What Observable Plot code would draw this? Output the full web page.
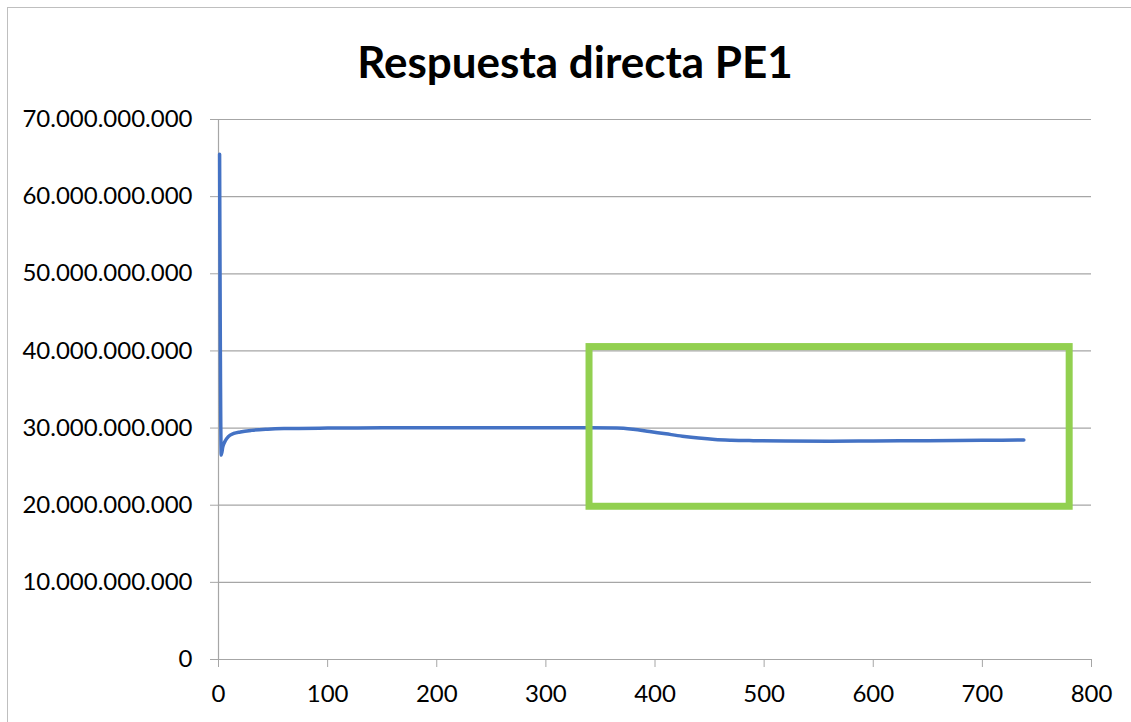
<!DOCTYPE html>
<html>
<head>
<meta charset="utf-8">
<script src="https://cdn.jsdelivr.net/npm/d3@7"></script>
<script src="https://cdn.jsdelivr.net/npm/@observablehq/plot@0.6"></script>
<style>
  html, body { margin: 0; padding: 0; background: #fff; }
  #wrap { position: relative; width: 1131px; height: 722px; overflow: hidden; }
  #frame { position: absolute; left: 7px; top: 7px; width: 1140px; height: 730px;
           border-left: 1.5px solid #bfbfbf; border-top: 1.5px solid #bfbfbf; box-sizing: border-box; }
  #chart { position: absolute; left: 0; top: 0; }
</style>
</head>
<body>
<div id="wrap"><div id="frame"></div><div id="chart"></div></div>
<script>
const title = "Respuesta directa PE1";

// time steps and response values
const tValues = [1, 2.5, 4, 6, 9, 14, 20, 30, 45, 60, 100, 150, 200, 250, 300, 340, 365, 380, 395, 410, 425, 440, 455, 470, 490, 520, 560, 600, 650, 700, 738];
const rValues = [65.5e9, 26.5e9, 27.6e9, 28.3e9, 28.9e9, 29.3e9, 29.5e9, 29.7e9, 29.85e9, 29.93e9, 30.0e9, 30.03e9, 30.05e9, 30.05e9, 30.05e9, 30.05e9, 30.02e9, 29.85e9, 29.55e9, 29.25e9, 28.95e9, 28.7e9, 28.52e9, 28.43e9, 28.37e9, 28.32e9, 28.3e9, 28.33e9, 28.37e9, 28.41e9, 28.45e9];

const xTicks = [0, 100, 200, 300, 400, 500, 600, 700, 800];
const yTicks = [0, 10e9, 20e9, 30e9, 40e9, 50e9, 60e9, 70e9];

// highlighted region (data coordinates)
const boxX = [340, 780];
const boxY = [19.8e9, 40.5e9];

const data = tValues.map((t, i) => ({t, r: rValues[i]}));
const box = [{x1: boxX[0], x2: boxX[1], y1: boxY[0], y2: boxY[1]}];

const loc = d3.formatLocale({decimal: ",", thousands: ".", grouping: [3], currency: ["", ""]});
const fmt = loc.format(",");

const grey = "#a6a6a6";
const font = "Lato, 'Open Sans', sans-serif";

const chart = Plot.plot({
  width: 1131,
  height: 722,
  marginLeft: 218,
  marginRight: 40,
  marginTop: 119,
  marginBottom: 63,
  style: {fontFamily: font, fontSize: "24px", color: "#000", background: "transparent"},
  x: {domain: [0, 800]},
  y: {domain: [0, 70e9]},
  marks: [
    Plot.gridY(yTicks, {stroke: grey, strokeOpacity: 1, strokeWidth: 1.2}),
    Plot.axisY(yTicks, {tickSize: 8, tickPadding: 18, tickFormat: fmt, stroke: grey, fill: "#000", fontSize: 24}),
    Plot.axisX(xTicks, {tickSize: 8, tickPadding: 17, stroke: grey, fill: "#000", fontSize: 24}),
    Plot.ruleX([0], {stroke: grey, strokeWidth: 1.2}),
    Plot.ruleY([0], {stroke: grey, strokeWidth: 1.2}),
    Plot.line(data, {x: "t", y: "r", stroke: "#4472c4", strokeWidth: 3.5, curve: "monotone-x"}),
    Plot.rect(box, {x1: "x1", x2: "x2", y1: "y1", y2: "y2", fill: "none", stroke: "#92d050", strokeWidth: 7, clip: false}),
    Plot.text([title], {frameAnchor: "top", dx: -80, dy: -42, lineAnchor: "bottom", fontWeight: "bold", fontSize: 44, fill: "#000"})
  ]
});
document.getElementById("chart").appendChild(chart);
</script>
</body>
</html>
